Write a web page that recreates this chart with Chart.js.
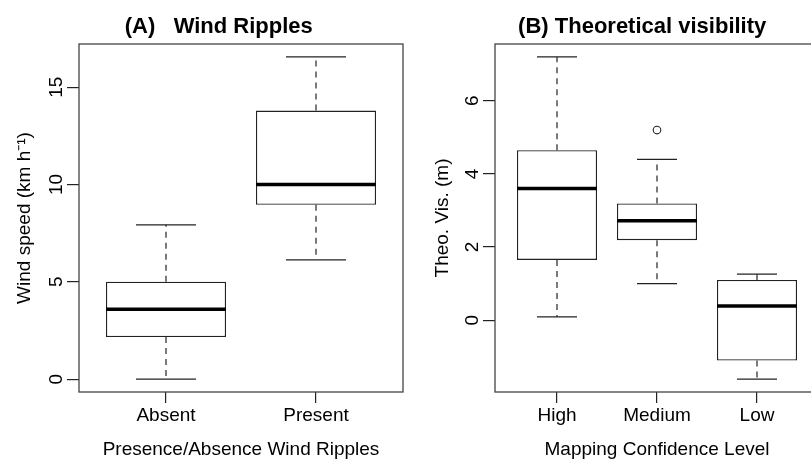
<!DOCTYPE html>
<html>
<head>
<meta charset="utf-8">
<title>Wind ripples and theoretical visibility</title>
<script src="https://cdn.jsdelivr.net/npm/chart.js@4.4.1/dist/chart.umd.min.js"></script>
<style>
  html, body { margin: 0; padding: 0; background: #fff; overflow: hidden; }
  body { width: 811px; height: 461px; position: relative; }
  canvas { position: absolute; top: 0; }
  #panel-a { left: 0; }
  #panel-b { left: 405px; }
</style>
</head>
<body>
<canvas id="panel-a" width="405" height="461"></canvas>
<canvas id="panel-b" width="430" height="461"></canvas>
<script>
// (A) wind speed, grouped by presence of wind ripples
const rippleGroups = ["Absent", "Present"];
const rippleLow = [0, 6.13];
const rippleQ1 = [2.16, 8.96];
const rippleMedian = [3.59, 10.0];
const rippleQ3 = [5.0, 13.8];
const rippleHigh = [7.93, 16.56];
const rippleOutliers = [[], []];
const windTicks = [0, 5, 10, 15];

// (B) theoretical visibility, grouped by mapping confidence
const confidenceGroups = ["High", "Medium", "Low"];
const visLow = [0.09, 1.0, -1.61];
const visQ1 = [1.65, 2.19, -1.10];
const visMedian = [3.6, 2.72, 0.39];
const visQ3 = [4.65, 3.19, 1.10];
const visHigh = [7.2, 4.4, 1.26];
const visOutliers = [[], [5.2], []];
const visTicks = [0, 2, 4, 6];

const FONT = '"Liberation Sans", Arial, Helvetica, sans-serif';
const ink = "#222";

Chart.defaults.font.family = FONT;
Chart.defaults.font.size = 19;
Chart.defaults.color = "#000";

// box around the plot region + the bold panel heading
const framePlugin = {
	id: "frame",
	afterDraw(chart, args, opts) {
		const { ctx, chartArea: a } = chart;
		ctx.save();
		ctx.strokeStyle = "#444";
		ctx.lineWidth = 1.3;
		ctx.strokeRect(a.left, a.top, a.width, a.height);
		ctx.font = "bold 22px " + FONT;
		ctx.fillStyle = "#000";
		ctx.textAlign = "center";
		ctx.textBaseline = "alphabetic";
		ctx.fillText(opts.text, opts.x, opts.y);
		ctx.restore();
	}
};

function segment(x0, y0, x1, y1, extra) {
	return Object.assign({
		type: "line",
		data: [{ x: x0, y: y0 }, { x: x1, y: y1 }],
		borderColor: ink,
		borderWidth: 1.2,
		pointRadius: 0,
		order: 1
	}, extra);
}

function boxplot(canvasId, s) {
	const n = s.groups.length;
	const all = s.low.concat(s.high, s.outliers.flat());
	const lo = Math.min(...all);
	const hi = Math.max(...all);
	const pad = (hi - lo) * 0.04;

	const datasets = [{
		type: "bar",
		data: s.groups.map((g, i) => ({ x: i + 1, y: [s.q1[i], s.q3[i]] })),
		backgroundColor: "#fff",
		borderColor: ink,
		borderWidth: 1.3,
		borderSkipped: false,
		barPercentage: 0.8,
		categoryPercentage: 1,
		order: 2
	}];

	s.groups.forEach((g, i) => {
		const x = i + 1;
		datasets.push(segment(x, s.q3[i], x, s.high[i], { borderDash: [6, 5] }));
		datasets.push(segment(x, s.q1[i], x, s.low[i], { borderDash: [6, 5] }));
		datasets.push(segment(x - 0.2, s.high[i], x + 0.2, s.high[i]));
		datasets.push(segment(x - 0.2, s.low[i], x + 0.2, s.low[i]));
		datasets.push(segment(x - 0.4, s.median[i], x + 0.4, s.median[i], { borderWidth: 3.6, borderColor: "#000" }));
	});

	datasets.push({
		type: "line",
		showLine: false,
		data: s.outliers.flatMap((o, i) => o.map((v) => ({ x: i + 1, y: v }))),
		pointRadius: 3.8,
		pointBackgroundColor: "#fff",
		pointBorderColor: ink,
		pointBorderWidth: 1.1,
		order: 0
	});

	return new Chart(document.getElementById(canvasId), {
		type: "bar",
		data: { datasets },
		options: {
			responsive: false,
			animation: false,
			events: [],
			layout: { padding: { top: 44, right: s.padRight, bottom: 0, left: 0 } },
			plugins: {
				legend: { display: false },
				tooltip: { enabled: false },
				frame: { text: s.title, x: s.titleX, y: 32.5 }
			},
			scales: {
				x: {
					type: "linear",
					offset: false,
					min: 0.5 - 0.04 * n,
					max: n + 0.5 + 0.04 * n,
					afterBuildTicks: (scale) => {
						scale.ticks = s.groups.map((g, i) => ({ value: i + 1 }));
					},
					afterFit: (scale) => { scale.height = 69; },
					ticks: { callback: (v) => s.groups[v - 1], padding: 1, autoSkip: false, maxRotation: 0 },
					grid: { offset: false, drawOnChartArea: false, tickLength: 11, color: ink, lineWidth: 1.2 },
					border: { display: false },
					title: { display: true, text: s.xTitle, padding: 0 }
				},
				y: {
					type: "linear",
					min: lo - pad,
					max: hi + pad,
					afterBuildTicks: (scale) => {
						scale.ticks = s.yTicks.map((v) => ({ value: v }));
					},
					afterFit: (scale) => { scale.width = s.yWidth; },
					ticks: { callback: (v) => String(v), minRotation: 90, maxRotation: 90, crossAlign: "center", padding: s.yTickPad, autoSkip: false },
					grid: { drawOnChartArea: false, tickLength: 12, color: ink, lineWidth: 1.2 },
					border: { display: false },
					title: { display: true, text: s.yTitle, padding: { top: s.yTitlePad, bottom: 0 } }
				}
			}
		},
		plugins: [framePlugin]
	});
}

boxplot("panel-a", {
	groups: rippleGroups, low: rippleLow, q1: rippleQ1, median: rippleMedian,
	q3: rippleQ3, high: rippleHigh, outliers: rippleOutliers, yTicks: windTicks,
	title: "(A)   Wind Ripples", titleX: 218.8,
	xTitle: "Presence/Absence Wind Ripples", yTitle: "Wind speed (km h\u207B\u00B9)",
	yWidth: 79, padRight: 2, yTickPad: 0, yTitlePad: 13
});

boxplot("panel-b", {
	groups: confidenceGroups, low: visLow, q1: visQ1, median: visMedian,
	q3: visQ3, high: visHigh, outliers: visOutliers, yTicks: visTicks,
	title: "(B) Theoretical visibility", titleX: 237.2,
	xTitle: "Mapping Confidence Level", yTitle: "Theo. Vis. (m)",
	yWidth: 90, padRight: 16, yTickPad: 5, yTitlePad: 26
});
</script>
</body>
</html>
